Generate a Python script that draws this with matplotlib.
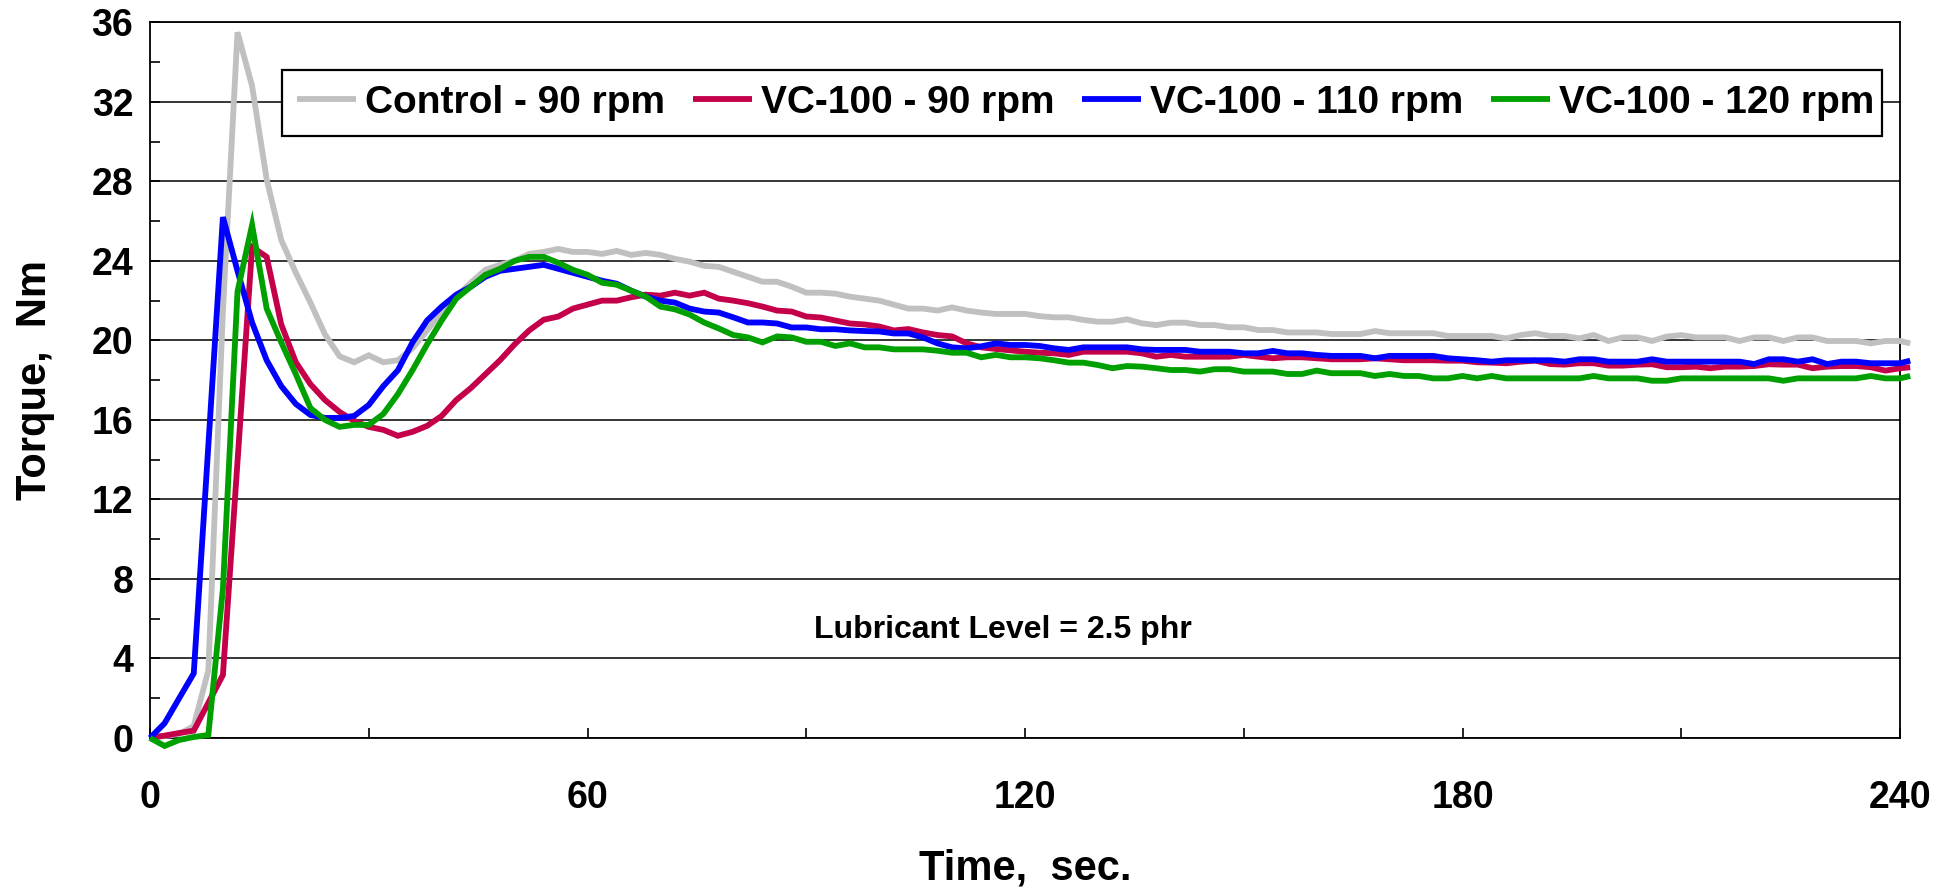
import numpy as np
import matplotlib
matplotlib.use("Agg")
import matplotlib.pyplot as plt
from matplotlib.ticker import MultipleLocator
from matplotlib.patches import Rectangle

plt.rcParams['font.family'] = ['Liberation Sans', 'DejaVu Sans']
plt.rcParams['font.weight'] = 'bold'

time_s = list(range(0, 242, 2)) + [241.4]

control_90 = [0, 0.1, 0.2, 0.6, 3.4, 21.5, 35.5, 32.8, 28.1, 25.05, 23.4, 21.9, 20.3, 19.2, 18.9, 19.25,
              18.9, 19.0, 19.6, 20.5, 21.4, 22.2, 22.9, 23.55, 23.8, 24.0, 24.35, 24.45, 24.6, 24.45, 24.45,
              24.35, 24.5, 24.3, 24.4, 24.3, 24.1, 23.96, 23.75, 23.7, 23.45, 23.2, 22.95, 22.95, 22.7, 22.4,
              22.4, 22.35, 22.2, 22.1, 22.0, 21.8, 21.6, 21.6, 21.5, 21.66, 21.5, 21.4, 21.33, 21.33, 21.33,
              21.22, 21.16, 21.16, 21.03, 20.94, 20.94, 21.06, 20.86, 20.77, 20.89, 20.89, 20.77, 20.77, 20.66,
              20.66, 20.52, 20.52, 20.4, 20.4, 20.4, 20.32, 20.32, 20.32, 20.47, 20.36, 20.36, 20.36, 20.36,
              20.22, 20.22, 20.22, 20.22, 20.1, 20.27, 20.36, 20.22, 20.22, 20.1, 20.27, 19.97, 20.15, 20.15,
              19.97, 20.19, 20.27, 20.15, 20.15, 20.15, 19.97, 20.15, 20.15, 19.97, 20.15, 20.15, 19.97, 19.97,
              19.97, 19.85, 19.97, 19.97, 19.85]

vc100_90 = [0, 0.12, 0.25, 0.37, 1.77, 3.17, 13.9, 24.7, 24.2, 20.8, 18.9, 17.8, 17.0, 16.4, 15.95, 15.65,
            15.5, 15.2, 15.4, 15.7, 16.2, 17.0, 17.6, 18.3, 19.0, 19.8, 20.5, 21.04, 21.2, 21.6, 21.8, 22.0,
            22.0, 22.17, 22.3, 22.25, 22.4, 22.25, 22.4, 22.1, 22.0, 21.87, 21.7, 21.5, 21.45, 21.2, 21.15,
            21.0, 20.85, 20.8, 20.7, 20.5, 20.57, 20.4, 20.27, 20.2, 19.85, 19.65, 19.57, 19.5, 19.43, 19.38,
            19.35, 19.27, 19.43, 19.43, 19.43, 19.43, 19.35, 19.18, 19.27, 19.18, 19.18, 19.18, 19.18, 19.27,
            19.18, 19.1, 19.15, 19.15, 19.1, 19.05, 19.05, 19.05, 19.1, 19.05, 19.0, 19.0, 19.0, 18.98, 18.98,
            18.9, 18.88, 18.85, 18.93, 18.98, 18.81, 18.78, 18.85, 18.85, 18.73, 18.73, 18.78, 18.8, 18.65,
            18.65, 18.68, 18.6, 18.68, 18.68, 18.71, 18.8, 18.78, 18.78, 18.6, 18.68, 18.71, 18.71, 18.65,
            18.48, 18.6, 18.65]

vc100_110 = [0, 0.74, 2.0, 3.25, 14.7, 26.2, 23.5, 20.9, 19.0, 17.7, 16.8, 16.25, 16.1, 16.1, 16.2, 16.75,
             17.7, 18.5, 19.9, 21.0, 21.7, 22.3, 22.7, 23.2, 23.5, 23.6, 23.7, 23.8, 23.6, 23.4, 23.2, 23.0,
             22.85, 22.5, 22.2, 22.0, 21.9, 21.6, 21.45, 21.4, 21.16, 20.9, 20.9, 20.85, 20.65, 20.65, 20.56,
             20.56, 20.5, 20.47, 20.45, 20.35, 20.35, 20.15, 19.85, 19.65, 19.6, 19.7, 19.85, 19.77, 19.77,
             19.72, 19.6, 19.52, 19.65, 19.65, 19.65, 19.65, 19.55, 19.52, 19.52, 19.52, 19.43, 19.43, 19.43,
             19.35, 19.35, 19.47, 19.35, 19.35, 19.27, 19.22, 19.22, 19.22, 19.1, 19.22, 19.22, 19.22, 19.22,
             19.1, 19.05, 19.0, 18.93, 19.0, 19.0, 19.0, 19.0, 18.93, 19.05, 19.05, 18.93, 18.93, 18.93, 19.05,
             18.93, 18.93, 18.93, 18.93, 18.93, 18.93, 18.81, 19.05, 19.05, 18.93, 19.05, 18.81, 18.93, 18.93,
             18.85, 18.85, 18.85, 18.98]

vc100_120 = [0, -0.4, -0.1, 0.05, 0.15, 7.5, 22.45, 25.8, 21.6, 19.9, 18.3, 16.6, 16.0, 15.65, 15.75, 15.75,
             16.3, 17.3, 18.5, 19.8, 21.0, 22.1, 22.7, 23.3, 23.6, 24.0, 24.2, 24.2, 23.9, 23.55, 23.3, 22.9,
             22.8, 22.5, 22.2, 21.7, 21.56, 21.3, 20.9, 20.6, 20.27, 20.15, 19.9, 20.2, 20.15, 19.93, 19.93,
             19.72, 19.85, 19.65, 19.65, 19.55, 19.55, 19.55, 19.48, 19.38, 19.38, 19.15, 19.27, 19.15, 19.15,
             19.1, 19.0, 18.88, 18.88, 18.76, 18.6, 18.71, 18.68, 18.6, 18.51, 18.51, 18.43, 18.55, 18.55,
             18.43, 18.43, 18.43, 18.31, 18.31, 18.48, 18.35, 18.35, 18.35, 18.21, 18.31, 18.21, 18.21, 18.09,
             18.09, 18.21, 18.09, 18.21, 18.09, 18.09, 18.09, 18.09, 18.09, 18.09, 18.21, 18.09, 18.09, 18.09,
             17.97, 17.97, 18.09, 18.09, 18.09, 18.09, 18.09, 18.09, 18.09, 17.97, 18.09, 18.09, 18.09, 18.09,
             18.09, 18.21, 18.09, 18.09, 18.21]

series_labels = ['Control - 90 rpm', 'VC-100 - 90 rpm', 'VC-100 - 110 rpm', 'VC-100 - 120 rpm']
series_colors = ['#C0C0C0', '#C4004A', '#0000FF', '#00A000']
x_ticks = [0, 60, 120, 180, 240]
y_ticks = list(range(0, 37, 4))

fig = plt.figure(figsize=(19.54, 8.93), dpi=100)
ax = fig.add_axes([150 / 1954, 1 - 738 / 893, 1750 / 1954, (738 - 22.3) / 893])

for data, lab, col in zip([control_90, vc100_90, vc100_110, vc100_120], series_labels, series_colors):
    ax.plot(time_s, data, color=col, lw=4.2, label=lab, solid_joinstyle='miter',
            solid_capstyle='butt', zorder=3, clip_on=False)

ax.set_xlim(0, 240)
ax.set_ylim(0, 36)
ax.set_xticks(x_ticks)
ax.set_yticks(y_ticks)
ax.xaxis.set_minor_locator(MultipleLocator(30))
ax.yaxis.set_minor_locator(MultipleLocator(2))
ax.grid(axis='y', which='major', color='black', lw=1.1)
ax.set_axisbelow(True)

ax.tick_params(axis='both', which='both', direction='in', labelsize=27, width=1.2)
ax.tick_params(axis='both', which='major', length=7)
ax.tick_params(axis='both', which='minor', length=7)
ax.tick_params(axis='x', which='major', pad=30)
ax.tick_params(axis='y', which='major', pad=12)
for lbl in ax.get_xticklabels() + ax.get_yticklabels():
    lbl.set_fontweight('bold')
for sp in ax.spines.values():
    sp.set_linewidth(1.3)
    sp.set_color('black')

ax.set_xlabel('Time,  sec.', fontsize=30, fontweight='bold', va='center')
ax.xaxis.set_label_coords(0.5, (738 - 868) / 715.7)
ax.set_ylabel('Torque,  Nm', fontsize=30, fontweight='bold', va='center')
ax.yaxis.set_label_coords((35 - 150) / 1750, 0.5)

ax.text(117, 5.45, 'Lubricant Level = 2.5 phr', fontsize=23, fontweight='bold',
        ha='center', va='center')

# legend frame drawn as a plain rectangle (inside the axes so it stacks below the legend)
frame = Rectangle((282 / 1954, 1 - 136 / 893), (1882 - 282) / 1954, (136 - 70) / 893,
                  transform=fig.transFigure, facecolor='white', edgecolor='black',
                  lw=1.6, zorder=4, clip_on=False)
ax.add_patch(frame)

leg = ax.legend(loc='center left', bbox_to_anchor=(297 / 1954, 1 - 103 / 893),
                bbox_transform=fig.transFigure, borderaxespad=0, borderpad=0, ncol=4,
                fontsize=28, handlelength=1.52, handletextpad=0.23, columnspacing=0.71,
                frameon=False)
leg.set_zorder(5)
for t in leg.get_texts():
    t.set_fontweight('bold')

fig.savefig('out.png', dpi=100)
